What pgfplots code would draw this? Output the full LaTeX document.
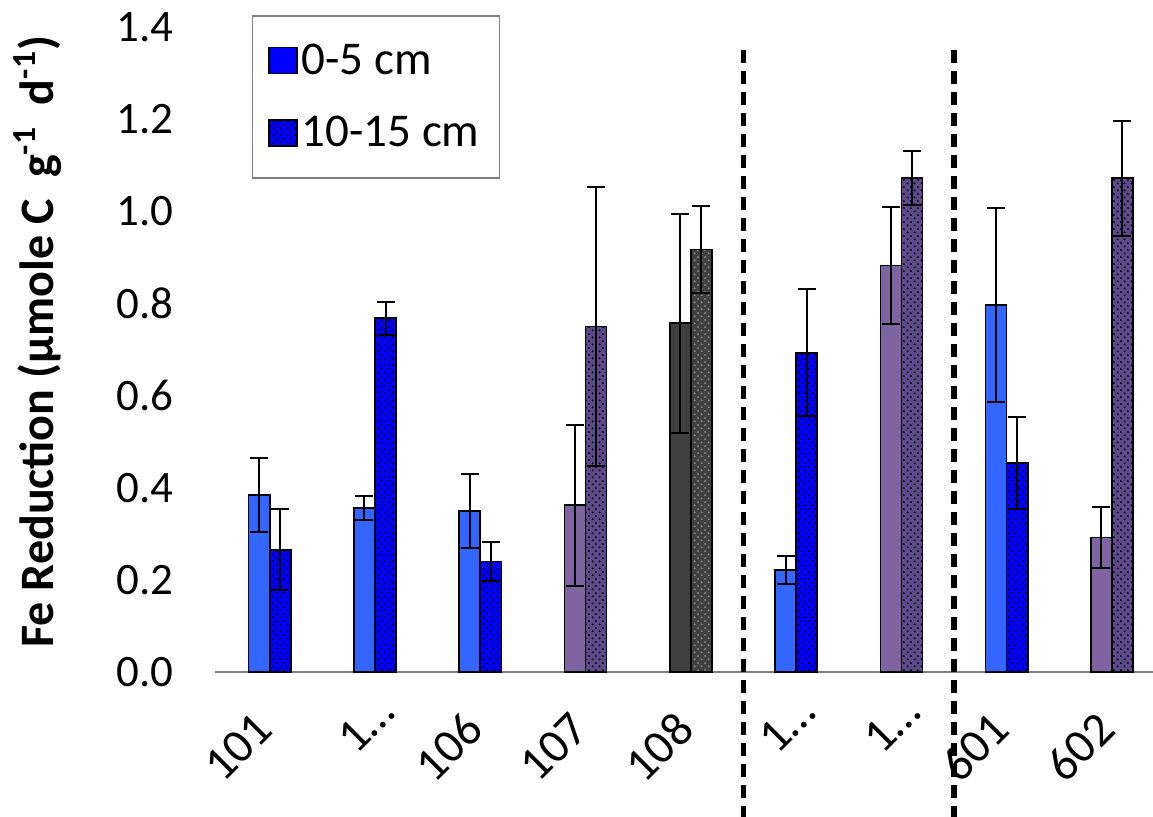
\documentclass[border=0pt]{standalone}
\usepackage{fontspec}
\setmainfont{Carlito}
\usepackage{pgfplots}
\pgfplotsset{compat=1.18}
\usetikzlibrary{patterns}
\pgfdeclarepatternformonly{mydots}{\pgfqpoint{0pt}{0pt}}{\pgfqpoint{3.4pt}{3.4pt}}{\pgfqpoint{3.4pt}{3.4pt}}{%
  \pgfpathcircle{\pgfqpoint{0.85pt}{0.85pt}}{0.55pt}%
  \pgfpathcircle{\pgfqpoint{2.55pt}{2.55pt}}{0.55pt}%
  \pgfusepath{fill}}
\definecolor{lblue}{HTML}{3366FF}
\definecolor{dblue}{HTML}{0000FF}
\definecolor{lpurp}{HTML}{8064A2}
\definecolor{dpurp}{HTML}{5F4B8B}
\definecolor{dgray}{HTML}{404040}
\definecolor{mgray}{HTML}{8C8C8C}
\begin{document}
\begin{tikzpicture}
\useasboundingbox (0,0) rectangle (576.5pt,408.5pt);
\begin{axis}[
  at={(107.5pt,72.5pt)}, anchor=south west,
  scale only axis, width=469pt, height=322.5pt,
  xmin=-0.52, xmax=8.39, ymin=0, ymax=1.4,
  clip=false,
  axis lines=left,
  y axis line style={draw=none},
  x axis line style={draw=gray, line width=1pt, -},
  tick style={draw=none},
  ytick={0,0.2,...,1.4},
  yticklabel style={/pgf/number format/fixed, /pgf/number format/fixed zerofill, /pgf/number format/precision=1, /pgf/number format/assume math mode=true, font=\fontsize{22.5}{27}\selectfont, xshift=-15pt},
  xtick={0,...,8},
  xticklabels={101,1…\hspace*{-12pt},106,107,108,1…\hspace*{-12pt},1…\hspace*{-12pt},601,602},
  xticklabel style={xshift=-0.5pt, yshift=-20pt, rotate=45, anchor=east, font=\fontsize{24}{28}\selectfont},
  ylabel={\textbf{Fe Reduction (µmole C\ \ g\textsuperscript{-1}\ \ d\textsuperscript{-1})}},
  ylabel style={font=\fontsize{24}{28}\selectfont, at={(axis description cs:-0.189,0.512)}, anchor=center},
  legend style={at={(0.039,1.0186)}, anchor=north west, draw=gray, line width=0.8pt, font=\fontsize{23.5}{28}\selectfont, inner xsep=8pt, inner ysep=12pt, row sep=15.5pt, /tikz/every even column/.append style={column sep=9pt}},
  legend cell align=left,
  legend image code/.code={\draw[#1, line width=0.7pt] (0pt,-6.5pt) rectangle (14pt,6.5pt);},
  error bars/y dir=both, error bars/y explicit,
  error bars/error bar style={black, line width=1pt},
  error bars/error mark options={black, line width=1pt, mark size=4.5pt, rotate=90},
]
\addlegendimage{fill=dblue, draw=black}
\addlegendentry{0-5 cm}
\addlegendimage{fill=dblue, draw=black, postaction={pattern=mydots, pattern color=black}}
\addlegendentry{10-15 cm}

% light blue solid (0-5 cm)
\addplot[ybar, bar width=0.2, bar shift=0, fill=lblue, draw=black, line width=0.8pt, forget plot]
  coordinates {(-0.1,0.384) +- (0,0.081) (0.9,0.356) +- (0,0.027) (1.9,0.350) +- (0,0.080) (4.9,0.222) +- (0,0.030) (6.9,0.797) +- (0,0.210)};
% blue dotted (10-15 cm)
\addplot[ybar, bar width=0.2, bar shift=0, fill=dblue, draw=black, line width=0.8pt, postaction={pattern=mydots, pattern color=black}, forget plot]
  coordinates {(0.1,0.265) +- (0,0.088) (1.1,0.768) +- (0,0.036) (2.1,0.240) +- (0,0.043) (5.1,0.693) +- (0,0.138) (7.1,0.453) +- (0,0.100)};
% purple solid (0-5 cm)
\addplot[ybar, bar width=0.2, bar shift=0, fill=lpurp, draw=black, line width=0.8pt, forget plot]
  coordinates {(2.9,0.362) +- (0,0.175) (5.9,0.882) +- (0,0.127) (7.9,0.292) +- (0,0.066)};
% purple dotted (10-15 cm)
\addplot[ybar, bar width=0.2, bar shift=0, fill=dpurp, draw=black, line width=0.8pt, postaction={pattern=mydots, pattern color=black}, forget plot]
  coordinates {(3.1,0.750) +- (0,0.303) (6.1,1.072) +- (0,0.058) (8.1,1.072) +- (0,0.125)};
% dark gray solid (0-5 cm)
\addplot[ybar, bar width=0.2, bar shift=0, fill=dgray, draw=black, line width=0.8pt, forget plot]
  coordinates {(3.9,0.757) +- (0,0.238)};
% dark gray dotted (10-15 cm)
\addplot[ybar, bar width=0.2, bar shift=0, fill=dgray, draw=black, line width=0.8pt, postaction={pattern=mydots, pattern color=mgray}, forget plot]
  coordinates {(4.1,0.917) +- (0,0.095)};

\draw[black, line width=2.6pt, dash pattern=on 6.5pt off 4pt] (axis cs:4.5,1.35) -- (axis cs:4.5,-0.32);
\draw[black, line width=2.6pt, dash pattern=on 6.5pt off 4pt] (axis cs:6.5,1.35) -- (axis cs:6.5,-0.32);
\end{axis}
\end{tikzpicture}
\end{document}
